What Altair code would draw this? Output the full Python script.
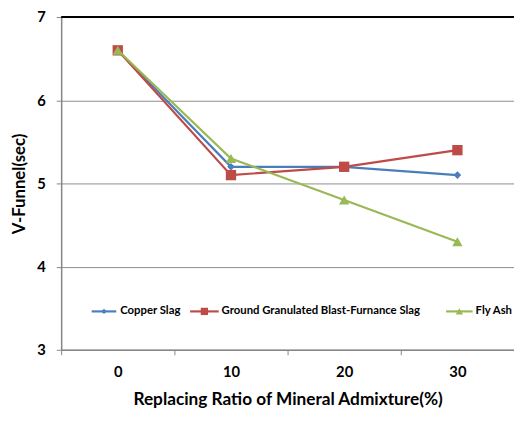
import altair as alt
import pandas as pd

categories = ["0", "10", "20", "30"]
copper_slag = [6.6, 5.2, 5.2, 5.1]
ggbfs = [6.6, 5.1, 5.2, 5.4]
fly_ash = [6.6, 5.3, 4.8, 4.3]
series_names = ["Copper Slag", "Ground Granulated Blast-Furnance Slag", "Fly Ash"]
colors = ["#4A7EBB", "#BE4B48", "#98B954"]
shapes = ["diamond", "square", "triangle-up"]
marker_sizes = [60, 110, 110]

rows = []
for name, vals in zip(series_names, [copper_slag, ggbfs, fly_ash]):
    for c, v in zip(categories, vals):
        rows.append({"series": name, "ratio": c, "v": v})
df = pd.DataFrame(rows)

FONT = "Lato"
W, H = 460, 338

xenc = alt.X(
    "ratio:O", sort=categories, bandPosition=0.5,
    scale=alt.Scale(type="band", paddingInner=0, paddingOuter=0, domain=categories),
    axis=alt.Axis(title="Replacing Ratio of Mineral Admixture(%)", labelAngle=0,
                  tickBand="extent", grid=False, domainColor="#868686", domainWidth=1.5,
                  tickColor="#868686", tickSize=5, labelPadding=10, titlePadding=12,
                  labelFontSize=15, titleFontSize=17.5, labelFont=FONT, titleFont=FONT,
                  labelFontWeight="bold", titleFontWeight="bold", labelColor="#000",
                  titleColor="#000"),
)
yscale = alt.Scale(domain=[3, 7], nice=False, zero=False)
yenc = alt.Y(
    "v:Q", scale=yscale,
    axis=alt.Axis(title="V-Funnel(sec)", values=[3, 4, 5, 6, 7], format="d", grid=True,
                  gridColor="#8c8c8c", gridWidth=1, domainColor="#868686", domainWidth=1.5,
                  tickColor="#868686", tickSize=5, labelPadding=11, titlePadding=9,
                  labelFontSize=15, titleFontSize=17, labelFont=FONT, titleFont=FONT,
                  labelFontWeight="bold", titleFontWeight="bold", labelColor="#000",
                  titleColor="#000"),
)

base = alt.Chart(df)
layers = []
top = alt.Chart(pd.DataFrame({"v": [7]})).mark_rule(color="#000", strokeWidth=2).encode(
    y=alt.Y("v:Q", scale=yscale))
layers.append(top)
for i, name in enumerate(series_names):
    sub = base.transform_filter(alt.datum.series == name)
    layers.append(sub.mark_line(strokeWidth=2.2, color=colors[i]).encode(x=xenc, y=yenc))
    layers.append(sub.mark_point(filled=True, opacity=1, shape=shapes[i], size=marker_sizes[i],
                                 color=colors[i]).encode(x=xenc, y=yenc))

# legend inside plot
leg_y = 299
leg_line = [(31, 56), (131, 160), (391, 418)]
leg_text = [60, 163, 421]
for i, name in enumerate(series_names):
    ld = alt.Chart(pd.DataFrame({"series": [name]}))
    a, b = leg_line[i]
    layers.append(ld.mark_rule(color=colors[i], strokeWidth=2.2).encode(
        x=alt.value(a), x2=alt.value(b), y=alt.value(leg_y)))
    layers.append(ld.mark_point(filled=True, opacity=1, shape=shapes[i],
                                size=marker_sizes[i] * 0.5, color=colors[i]).encode(
        x=alt.value((a + b) / 2), y=alt.value(leg_y)))
    layers.append(ld.mark_text(align="left", baseline="middle", font=FONT, fontSize=11.5,
                               fontWeight="bold", color="#000").encode(
        x=alt.value(leg_text[i]), y=alt.value(leg_y), text="series:N"))

chart = alt.layer(*layers).properties(
    width=W, height=H,
    autosize=alt.AutoSizeParams(type="none"),
    padding={"left": 54, "top": 6, "right": 0, "bottom": 62}
).configure_view(stroke=None).configure(background="white")

chart.save("out.html", embed_options={"renderer": "svg", "actions": False})
